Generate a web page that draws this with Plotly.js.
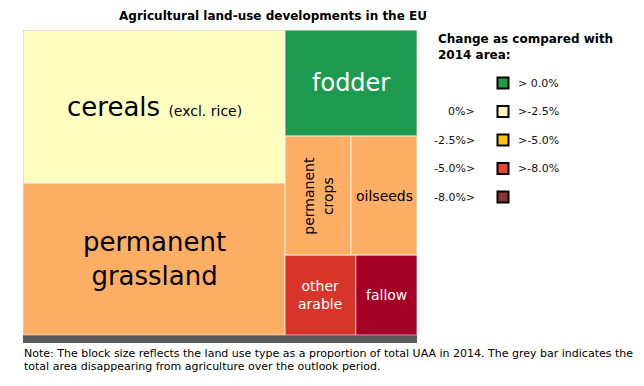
<!DOCTYPE html>
<html><head><meta charset="utf-8">
<script src="https://cdn.plot.ly/plotly-3.0.1.min.js"></script>
<style>html,body{margin:0;padding:0;background:#fff}#chart{width:644px;height:386px}</style>
</head><body><div id="chart"></div>
<script>
const landUse = ['cereals', 'permanent grassland', 'fodder', 'permanent crops', 'oilseeds', 'other arable', 'fallow'];
const area2014 = [58.2, 57.8, 20.3, 11.4, 11.4, 8.2, 7.1];
const blockColumn = [0, 0, 1, 1, 1, 1, 1];
const blockRow = [0, 1, 0, 1, 1, 2, 2];
const blockColors = ['#FFFDC0', '#FCAE64', '#1E9A50', '#FCAE64', '#FCAE64', '#D8352A', '#A50026'];
const labelColors = ['#000', '#000', '#fff', '#000', '#000', '#fff', '#fff'];
const blockLabels = ['cereals <span style="font-size:14px">(excl. rice)</span>', 'permanent<br>grassland', 'fodder', 'permanent<br>crops', 'oilseeds', 'other<br>arable', 'fallow'];
const labelSizes = [26, 26, 24, 14, 14, 14, 14];
const labelAngles = [0, 0, 0, -90, 0, 0, 0];
const disappearingArea = 4.5;

const legendLeft = ['', '0%>', '-2.5%>', '-5.0%>', '-8.0%>'];
const legendRight = ['> 0.0%', '>-2.5%', '>-5.0%', '>-8.0%', ''];
const legendColors = ['#1DA24A', '#FFF6C2', '#FFC20E', '#E34A33', '#8B3636'];

// ---- layout computation (slice and dice) ----
const W = 644, H = 386;
const total = area2014.reduce((a, b) => a + b, 0);
const colTotals = [0, 0];
area2014.forEach((v, i) => colTotals[blockColumn[i]] += v);
const rects = [];
let x0 = 0;
[0, 1].forEach(c => {
  const cw = colTotals[c] / total;
  const rows = [...new Set(blockRow.filter((r, i) => blockColumn[i] === c))].sort();
  let yTop = 1;
  rows.forEach(r => {
    const idx = area2014.map((v, i) => i).filter(i => blockColumn[i] === c && blockRow[i] === r);
    const rowSum = idx.reduce((s, i) => s + area2014[i], 0);
    const rh = rowSum / colTotals[c];
    let xx = x0;
    idx.forEach(i => {
      const w = cw * area2014[i] / rowSum;
      rects[i] = {x0: xx, x1: xx + w, y0: yTop - rh, y1: yTop};
      xx += w;
    });
    yTop -= rh;
  });
  x0 += cw;
});
const greyH = disappearingArea / total;

const traces = [];
landUse.forEach((name, i) => {
  const r = rects[i];
  traces.push({
    type: 'scatter', mode: 'lines', x: [r.x0, r.x1, r.x1, r.x0, r.x0], y: [r.y0, r.y0, r.y1, r.y1, r.y0],
    fill: 'toself', fillcolor: blockColors[i], line: {color: 'rgba(255,255,255,0.55)', width: 1.2},
    hoverinfo: 'text', text: name, showlegend: false
  });
});
traces.push({
  type: 'scatter', mode: 'lines', x: [0, 1, 1, 0, 0], y: [-greyH, -greyH, 0, 0, -greyH],
  fill: 'toself', fillcolor: '#5A5A5A', line: {color: '#5A5A5A', width: 0}, hoverinfo: 'skip', showlegend: false
});
traces.push({
  type: 'scatter', mode: 'lines', x: [0, 0, 1], y: [0, 1, 1],
  line: {color: '#C8C8C8', width: 1}, hoverinfo: 'skip', showlegend: false
});

// legend marks on a full-page pixel axis
const legY = legendColors.map((c, i) => 83 + i * 28.5);
traces.push({
  type: 'scatter', mode: 'markers', xaxis: 'x2', yaxis: 'y2',
  x: legendColors.map(() => 503), y: legY,
  marker: {symbol: 'square', size: 11, color: legendColors, line: {color: '#000', width: 2}},
  hoverinfo: 'skip', showlegend: false
});

const annotations = [];
landUse.forEach((name, i) => {
  const r = rects[i];
  annotations.push({
    x: (r.x0 + r.x1) / 2, y: (r.y0 + r.y1) / 2, xref: 'x', yref: 'y',
    text: blockLabels[i], showarrow: false, textangle: labelAngles[i],
    font: {family: 'DejaVu Sans', size: labelSizes[i], color: labelColors[i]}
  });
});
legendLeft.forEach((t, i) => {
  if (t) annotations.push({x: 477, y: legY[i], xref: 'x2', yref: 'y2', xanchor: 'right', text: t, showarrow: false,
    font: {family: 'DejaVu Sans', size: 11, color: '#111'}});
});
legendRight.forEach((t, i) => {
  if (t) annotations.push({x: 516, y: legY[i], xref: 'x2', yref: 'y2', xanchor: 'left', text: t, showarrow: false,
    font: {family: 'DejaVu Sans', size: 11, color: '#111'}});
});
annotations.push({x: 436, y: 30, xref: 'x2', yref: 'y2', xanchor: 'left', yanchor: 'top', align: 'left',
  text: '<b>Change as compared with<br>2014 area:</b>', showarrow: false,
  font: {family: 'DejaVu Sans', size: 12, color: '#000'}});
annotations.push({x: 22, y: 353, xref: 'x2', yref: 'y2', xanchor: 'left', text: 'Note: The block size reflects the land use type as a proportion of total UAA in 2014. The grey bar indicates the', showarrow: false,
  font: {family: 'DejaVu Sans', size: 11, color: '#000'}});
annotations.push({x: 22, y: 366, xref: 'x2', yref: 'y2', xanchor: 'left', text: 'total area disappearing from agriculture over the outlook period.', showarrow: false,
  font: {family: 'DejaVu Sans', size: 11, color: '#000'}});

const layout = {
  width: W, height: H, margin: {l: 0, r: 0, t: 0, b: 0}, paper_bgcolor: '#fff', plot_bgcolor: 'rgba(0,0,0,0)',
  title: {text: '<b>Agricultural land-use developments in the EU</b>', x: 273 / W, xanchor: 'center', xref: 'paper',
    y: 1 - 16 / H, yanchor: 'middle', yref: 'paper', font: {family: 'DejaVu Sans', size: 12, color: '#000'}},
  xaxis: {domain: [23 / W, 417 / W], range: [0, 1], visible: false, fixedrange: true},
  yaxis: {domain: [1 - 343 / H, 1 - 30 / H], range: [-greyH, 1], visible: false, fixedrange: true},
  xaxis2: {domain: [0, 1], range: [0, W], visible: false, anchor: 'y2'},
  yaxis2: {domain: [0, 1], range: [H, 0], visible: false, anchor: 'x2'},
  annotations: annotations, showlegend: false
};
Plotly.newPlot('chart', traces, layout, {staticPlot: true, displayModeBar: false});
</script></body></html>
